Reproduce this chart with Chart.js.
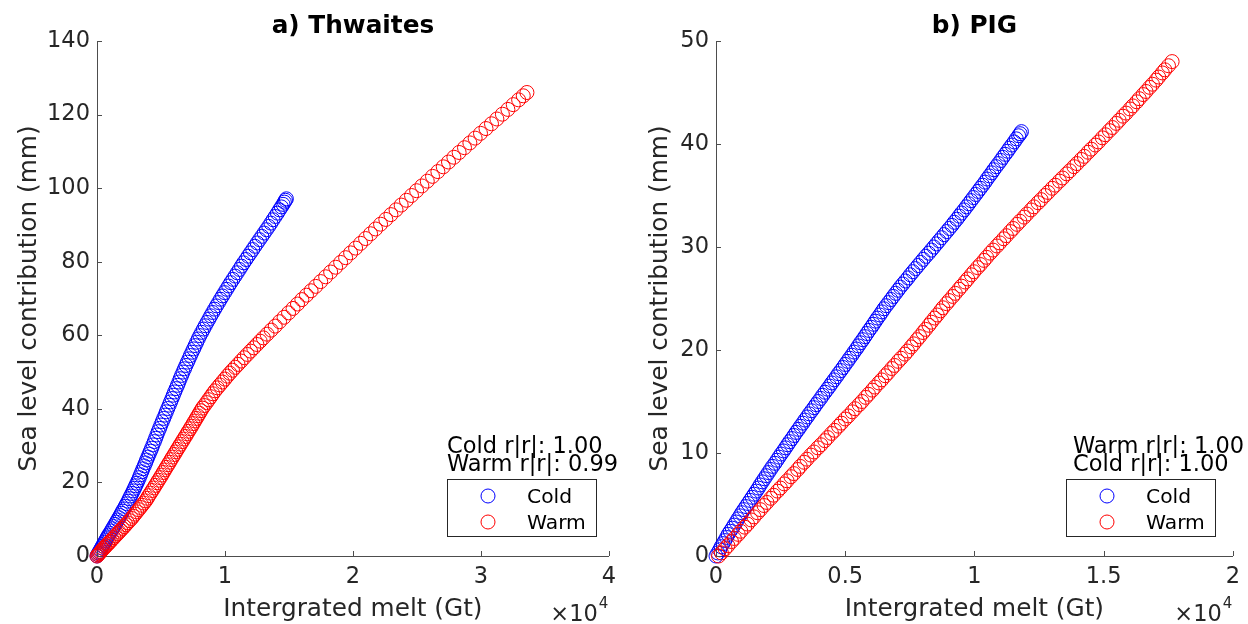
<!DOCTYPE html>
<html>
<head>
<meta charset="utf-8">
<script src="https://cdn.jsdelivr.net/npm/chart.js@4.4.1/dist/chart.umd.min.js"></script>
<style>
  html, body { margin: 0; padding: 0; background: #fff; }
  #wrap { position: relative; width: 1248px; height: 624px; }
  canvas { position: absolute; top: 0; }
  #chartA { left: 0; }
  #chartB { left: 624px; }
</style>
</head>
<body>
<div id="wrap">
  <canvas id="chartA" width="624" height="624"></canvas>
  <canvas id="chartB" width="624" height="624"></canvas>
</div>
<script>
// x = integrated melt in units of 10^4 Gt, y = sea level contribution (mm)
const thwaitesColdX = [0, 0.006, 0.013, 0.019, 0.027, 0.035, 0.043, 0.051, 0.059, 0.067,
  0.075, 0.083, 0.092, 0.100, 0.111, 0.121, 0.131, 0.141, 0.151, 0.162,
  0.171, 0.181, 0.191, 0.200, 0.210, 0.221, 0.232, 0.243, 0.253, 0.263,
  0.273, 0.283, 0.293, 0.302, 0.312, 0.321, 0.331, 0.340, 0.350, 0.359,
  0.369, 0.379, 0.388, 0.398, 0.407, 0.417, 0.427, 0.437, 0.448, 0.458,
  0.468, 0.478, 0.489, 0.499, 0.510, 0.521, 0.532, 0.542, 0.553, 0.564,
  0.575, 0.586, 0.596, 0.607, 0.618, 0.629, 0.640, 0.650, 0.661, 0.672,
  0.684, 0.695, 0.707, 0.719, 0.730, 0.742, 0.755, 0.767, 0.779, 0.791,
  0.804, 0.818, 0.832, 0.846, 0.860, 0.875, 0.889, 0.904, 0.919, 0.934,
  0.950, 0.965, 0.981, 0.997, 1.013, 1.029, 1.045, 1.062, 1.079, 1.096,
  1.113, 1.129, 1.146, 1.164, 1.181, 1.199, 1.217, 1.234, 1.252, 1.270,
  1.288, 1.306, 1.324, 1.342, 1.359, 1.376, 1.393, 1.410, 1.426, 1.441,
  1.454, 1.464, 1.473, 1.480];
const thwaitesColdY = [0, 0.4, 0.8, 1.2, 1.7, 2.2, 2.7, 3.2, 3.7, 4.2,
  4.7, 5.2, 5.7, 6.2, 6.8, 7.4, 8.0, 8.6, 9.2, 9.8,
  10.4, 11.0, 11.6, 12.2, 12.8, 13.5, 14.2, 14.9, 15.6, 16.3,
  17.0, 17.7, 18.4, 19.1, 19.8, 20.5, 21.3, 22.1, 22.9, 23.7,
  24.5, 25.3, 26.1, 26.9, 27.7, 28.5, 29.3, 30.2, 31.1, 32.0,
  32.9, 33.8, 34.7, 35.6, 36.5, 37.4, 38.3, 39.2, 40.1, 41.0,
  41.9, 42.8, 43.7, 44.6, 45.5, 46.4, 47.3, 48.2, 49.1, 50.0,
  50.9, 51.8, 52.7, 53.6, 54.5, 55.4, 56.3, 57.2, 58.1, 59.0,
  59.9, 60.8, 61.7, 62.6, 63.5, 64.4, 65.3, 66.2, 67.1, 68.0,
  68.9, 69.8, 70.7, 71.6, 72.5, 73.4, 74.3, 75.2, 76.1, 77.0,
  77.9, 78.8, 79.7, 80.6, 81.5, 82.4, 83.3, 84.2, 85.1, 86.0,
  86.9, 87.8, 88.7, 89.6, 90.5, 91.4, 92.3, 93.2, 94.1, 94.9,
  95.6, 96.2, 96.7, 97.1];

const thwaitesWarmX = [0, 0.008, 0.015, 0.023, 0.030, 0.040, 0.050, 0.061, 0.072, 0.083,
  0.094, 0.105, 0.118, 0.132, 0.145, 0.159, 0.172, 0.185, 0.199, 0.212,
  0.225, 0.238, 0.254, 0.270, 0.283, 0.297, 0.311, 0.325, 0.339, 0.352,
  0.366, 0.380, 0.393, 0.405, 0.418, 0.431, 0.444, 0.456, 0.469, 0.481,
  0.494, 0.506, 0.518, 0.530, 0.542, 0.555, 0.567, 0.579, 0.591, 0.604,
  0.616, 0.628, 0.641, 0.653, 0.666, 0.678, 0.691, 0.703, 0.715, 0.728,
  0.740, 0.752, 0.764, 0.776, 0.788, 0.800, 0.812, 0.824, 0.839, 0.856,
  0.872, 0.889, 0.905, 0.922, 0.941, 0.960, 0.980, 0.999, 1.018, 1.038,
  1.059, 1.080, 1.102, 1.126, 1.150, 1.175, 1.200, 1.225, 1.250, 1.275,
  1.300, 1.329, 1.361, 1.393, 1.427, 1.462, 1.497, 1.532, 1.567, 1.601,
  1.637, 1.673, 1.709, 1.748, 1.787, 1.826, 1.865, 1.904, 1.943, 1.982,
  2.021, 2.060, 2.099, 2.138, 2.177, 2.216, 2.257, 2.297, 2.337, 2.377,
  2.418, 2.458, 2.498, 2.539, 2.581, 2.622, 2.664, 2.706, 2.747, 2.789,
  2.830, 2.872, 2.914, 2.955, 2.997, 3.040, 3.083, 3.125, 3.168, 3.211,
  3.253, 3.295, 3.331, 3.360];
const thwaitesWarmY = [0, 0.3, 0.6, 0.9, 1.2, 1.6, 2.0, 2.4, 2.8, 3.2,
  3.6, 4.0, 4.5, 5.0, 5.5, 6.0, 6.5, 7.0, 7.5, 8.0,
  8.5, 9.0, 9.6, 10.2, 10.8, 11.4, 12.0, 12.6, 13.2, 13.8,
  14.4, 15.0, 15.7, 16.4, 17.1, 17.8, 18.5, 19.2, 19.9, 20.6,
  21.3, 22.0, 22.7, 23.4, 24.1, 24.8, 25.5, 26.2, 26.9, 27.6,
  28.3, 29.0, 29.7, 30.4, 31.1, 31.8, 32.5, 33.2, 33.9, 34.6,
  35.3, 36.0, 36.7, 37.4, 38.1, 38.8, 39.5, 40.2, 40.9, 41.7,
  42.5, 43.3, 44.1, 44.9, 45.7, 46.5, 47.3, 48.1, 48.9, 49.7,
  50.5, 51.3, 52.1, 53.0, 53.9, 54.8, 55.7, 56.6, 57.5, 58.4,
  59.3, 60.3, 61.4, 62.5, 63.7, 64.9, 66.1, 67.3, 68.5, 69.7,
  70.9, 72.1, 73.3, 74.6, 75.9, 77.2, 78.5, 79.8, 81.1, 82.4,
  83.7, 85.0, 86.3, 87.6, 88.9, 90.2, 91.5, 92.8, 94.1, 95.4,
  96.7, 98.0, 99.3, 100.6, 101.9, 103.2, 104.5, 105.8, 107.1, 108.4,
  109.7, 111.0, 112.3, 113.6, 114.9, 116.2, 117.5, 118.8, 120.1, 121.4,
  122.7, 124.0, 125.1, 126.0];

const pigColdX = [0, 0.007, 0.014, 0.020, 0.027, 0.034, 0.041, 0.047, 0.055, 0.063,
  0.070, 0.078, 0.085, 0.093, 0.100, 0.108, 0.116, 0.124, 0.132, 0.140,
  0.148, 0.156, 0.164, 0.171, 0.179, 0.187, 0.195, 0.203, 0.211, 0.219,
  0.228, 0.236, 0.244, 0.252, 0.261, 0.269, 0.277, 0.285, 0.294, 0.302,
  0.310, 0.319, 0.327, 0.336, 0.344, 0.353, 0.361, 0.370, 0.379, 0.387,
  0.396, 0.405, 0.413, 0.422, 0.431, 0.440, 0.448, 0.457, 0.466, 0.474,
  0.483, 0.492, 0.500, 0.509, 0.517, 0.526, 0.534, 0.543, 0.551, 0.559,
  0.568, 0.576, 0.584, 0.592, 0.601, 0.609, 0.617, 0.625, 0.634, 0.642,
  0.650, 0.659, 0.668, 0.677, 0.686, 0.695, 0.704, 0.713, 0.723, 0.733,
  0.743, 0.752, 0.762, 0.772, 0.782, 0.792, 0.802, 0.812, 0.823, 0.833,
  0.843, 0.853, 0.863, 0.873, 0.883, 0.893, 0.903, 0.913, 0.922, 0.932,
  0.941, 0.950, 0.960, 0.969, 0.978, 0.987, 0.996, 1.005, 1.014, 1.023,
  1.032, 1.041, 1.049, 1.058, 1.067, 1.075, 1.084, 1.093, 1.102, 1.110,
  1.119, 1.128, 1.136, 1.145, 1.154, 1.162, 1.171, 1.177, 1.182];
const pigColdY = [0, 0.3, 0.6, 0.9, 1.2, 1.5, 1.8, 2.1, 2.4, 2.7,
  3.0, 3.3, 3.6, 3.9, 4.2, 4.5, 4.8, 5.1, 5.4, 5.7,
  6.0, 6.3, 6.6, 6.9, 7.2, 7.5, 7.8, 8.1, 8.4, 8.7,
  9.0, 9.3, 9.6, 9.9, 10.2, 10.5, 10.8, 11.1, 11.4, 11.7,
  12.0, 12.3, 12.6, 12.9, 13.2, 13.5, 13.8, 14.1, 14.4, 14.7,
  15.0, 15.3, 15.6, 15.9, 16.2, 16.5, 16.8, 17.1, 17.4, 17.7,
  18.0, 18.3, 18.6, 18.9, 19.2, 19.5, 19.8, 20.1, 20.4, 20.7,
  21.0, 21.3, 21.6, 21.9, 22.2, 22.5, 22.8, 23.1, 23.4, 23.7,
  24.0, 24.3, 24.6, 24.9, 25.2, 25.5, 25.8, 26.1, 26.4, 26.7,
  27.0, 27.3, 27.6, 27.9, 28.2, 28.5, 28.8, 29.1, 29.4, 29.7,
  30.0, 30.3, 30.6, 30.9, 31.2, 31.5, 31.8, 32.1, 32.4, 32.7,
  33.0, 33.3, 33.6, 33.9, 34.2, 34.5, 34.8, 35.1, 35.4, 35.7,
  36.0, 36.3, 36.6, 36.9, 37.2, 37.5, 37.8, 38.1, 38.4, 38.7,
  39.0, 39.3, 39.6, 39.9, 40.2, 40.5, 40.8, 41.0, 41.2];

const pigWarmX = [0.010, 0.021, 0.035, 0.046, 0.060, 0.071, 0.086, 0.096, 0.111, 0.122,
  0.136, 0.147, 0.161, 0.172, 0.186, 0.197, 0.212, 0.223, 0.238, 0.249,
  0.264, 0.275, 0.290, 0.301, 0.316, 0.326, 0.341, 0.352, 0.367, 0.379,
  0.394, 0.406, 0.421, 0.432, 0.447, 0.459, 0.474, 0.485, 0.500, 0.512,
  0.527, 0.538, 0.554, 0.565, 0.579, 0.590, 0.605, 0.615, 0.630, 0.641,
  0.655, 0.666, 0.680, 0.691, 0.705, 0.716, 0.731, 0.741, 0.755, 0.765,
  0.778, 0.788, 0.801, 0.811, 0.824, 0.833, 0.846, 0.856, 0.869, 0.878,
  0.892, 0.902, 0.916, 0.926, 0.940, 0.950, 0.964, 0.974, 0.988, 0.998,
  1.012, 1.023, 1.037, 1.047, 1.061, 1.072, 1.087, 1.098, 1.113, 1.124,
  1.139, 1.150, 1.165, 1.176, 1.192, 1.203, 1.219, 1.230, 1.246, 1.258,
  1.273, 1.285, 1.301, 1.313, 1.329, 1.341, 1.357, 1.369, 1.385, 1.397,
  1.413, 1.425, 1.440, 1.452, 1.468, 1.480, 1.495, 1.507, 1.522, 1.534,
  1.549, 1.560, 1.575, 1.587, 1.602, 1.613, 1.628, 1.638, 1.653, 1.664,
  1.678, 1.689, 1.703, 1.713, 1.727, 1.737, 1.751, 1.765];
const pigWarmY = [0, 0.3, 0.7, 1.0, 1.4, 1.7, 2.1, 2.4, 2.8, 3.1,
  3.5, 3.8, 4.2, 4.5, 4.9, 5.2, 5.6, 5.9, 6.3, 6.6,
  7.0, 7.3, 7.7, 8.0, 8.4, 8.7, 9.1, 9.4, 9.8, 10.1,
  10.5, 10.8, 11.2, 11.5, 11.9, 12.2, 12.6, 12.9, 13.3, 13.6,
  14.0, 14.3, 14.7, 15.0, 15.4, 15.7, 16.1, 16.4, 16.8, 17.1,
  17.5, 17.8, 18.2, 18.5, 18.9, 19.2, 19.6, 19.9, 20.3, 20.6,
  21.0, 21.3, 21.7, 22.0, 22.4, 22.7, 23.1, 23.4, 23.8, 24.1,
  24.5, 24.8, 25.2, 25.5, 25.9, 26.2, 26.6, 26.9, 27.3, 27.6,
  28.0, 28.3, 28.7, 29.0, 29.4, 29.7, 30.1, 30.4, 30.8, 31.1,
  31.5, 31.8, 32.2, 32.5, 32.9, 33.2, 33.6, 33.9, 34.3, 34.6,
  35.0, 35.3, 35.7, 36.0, 36.4, 36.7, 37.1, 37.4, 37.8, 38.1,
  38.5, 38.8, 39.2, 39.5, 39.9, 40.2, 40.6, 40.9, 41.3, 41.6,
  42.0, 42.3, 42.7, 43.0, 43.4, 43.7, 44.1, 44.4, 44.8, 45.1,
  45.5, 45.8, 46.2, 46.5, 46.9, 47.2, 47.6, 48.0];

const xTicksA = [0, 1, 2, 3, 4];
const yTicksA = [0, 20, 40, 60, 80, 100, 120, 140];
const xTicksB = [0, 0.5, 1, 1.5, 2];
const yTicksB = [0, 10, 20, 30, 40, 50];

const seriesNames = ['Cold', 'Warm'];
const statsA = ['Cold r|r|: 1.00', 'Warm r|r|: 0.99'];
const statsB = ['Warm r|r|: 1.00', 'Cold r|r|: 1.00'];

const FONT = '"DejaVu Sans", sans-serif';
const axisColor = '#4d4d4d';
const textColor = '#262626';
const coldColor = '#0000ff';
const warmColor = '#ff0000';

Chart.defaults.font.family = FONT;

function toPoints(xs, ys) {
  return xs.map((x, i) => ({ x: x, y: ys[i] }));
}

// titles, axis labels, inward ticks, r|r| text and the legend box
const decor = {
  id: 'decor',
  afterDraw(chart, args, o) {
    const ctx = chart.ctx;
    const a = chart.chartArea;
    const xs = chart.scales.x, ys = chart.scales.y;
    ctx.save();

    ctx.strokeStyle = axisColor;
    ctx.lineWidth = 1;
    ctx.beginPath();
    ys.ticks.forEach(t => {
      const p = Math.round(ys.getPixelForValue(t.value)) + 0.5;
      ctx.moveTo(a.left, p); ctx.lineTo(a.left + 5, p);
    });
    xs.ticks.forEach(t => {
      const p = Math.round(xs.getPixelForValue(t.value)) + 0.5;
      ctx.moveTo(p, a.bottom); ctx.lineTo(p, a.bottom - 5);
    });
    ctx.stroke();

    const cx = (a.left + a.right) / 2;
    ctx.textAlign = 'center';
    ctx.textBaseline = 'alphabetic';
    ctx.fillStyle = '#000';
    ctx.font = 'bold 24.75px ' + FONT;
    ctx.fillText(o.title, cx, 33);

    ctx.fillStyle = textColor;
    ctx.font = '24.75px ' + FONT;
    ctx.fillText('Intergrated melt (Gt)', cx, 616);

    ctx.save();
    ctx.translate(o.yLabelX, (a.top + a.bottom) / 2);
    ctx.rotate(-Math.PI / 2);
    ctx.fillText('Sea level contribution (mm)', 0, 0);
    ctx.restore();

    // x10^4 exponent
    ctx.textAlign = 'right';
    ctx.font = '22.5px ' + FONT;
    ctx.fillText('\u00d710', a.right - 11, 621);
    ctx.textAlign = 'left';
    ctx.font = '15px ' + FONT;
    ctx.fillText('4', a.right - 10, 608);

    // correlation text
    ctx.fillStyle = '#000';
    ctx.font = '22.5px ' + FONT;
    ctx.fillText(o.stats[0], o.statsX, 453);
    ctx.fillText(o.stats[1], o.statsX, 471);

    // legend
    const bx = o.legendX, by = 479, bw = 149, bh = 57;
    ctx.fillStyle = '#fff';
    ctx.fillRect(bx, by, bw, bh);
    ctx.strokeStyle = textColor;
    ctx.strokeRect(bx + 0.5, by + 0.5, bw, bh);
    const rows = [496, 522];
    const cols = [coldColor, warmColor];
    ctx.font = '20.25px ' + FONT;
    rows.forEach((ry, i) => {
      ctx.strokeStyle = cols[i];
      ctx.beginPath();
      ctx.arc(bx + 41, ry, 7, 0, Math.PI * 2);
      ctx.stroke();
      ctx.fillStyle = '#000';
      ctx.fillText(seriesNames[i], bx + 80, ry + 7);
    });
    ctx.restore();
  }
};

function makeChart(id, cfg) {
  const pointOpts = {
    showLine: false,
    pointRadius: 7,
    pointHoverRadius: 7,
    pointBorderWidth: 1,
    pointBackgroundColor: 'rgba(0,0,0,0)',
    clip: false
  };
  return new Chart(document.getElementById(id), {
    type: 'scatter',
    data: {
      datasets: [
        Object.assign({ label: seriesNames[0], data: cfg.cold, pointBorderColor: coldColor, order: 1 }, pointOpts),
        Object.assign({ label: seriesNames[1], data: cfg.warm, pointBorderColor: warmColor, order: 0 }, pointOpts)
      ]
    },
    options: {
      responsive: false,
      animation: false,
      devicePixelRatio: 1,
      events: [],
      layout: { padding: { top: 41, right: cfg.padRight, bottom: 0, left: 0 } },
      plugins: {
        legend: { display: false },
        tooltip: { enabled: false },
        decor: cfg.decor
      },
      scales: {
        x: {
          type: 'linear',
          min: cfg.xTicks[0],
          max: cfg.xTicks[cfg.xTicks.length - 1],
          afterBuildTicks: s => { s.ticks = cfg.xTicks.map(v => ({ value: v })); },
          afterFit: s => { s.height = 68; },
          grid: { display: false, drawTicks: false },
          border: { display: true, color: axisColor, width: 1 },
          ticks: {
            padding: 8,
            color: textColor,
            font: { size: 22.5 },
            maxRotation: 0,
            autoSkip: false,
            callback: v => String(v)
          }
        },
        y: {
          type: 'linear',
          min: cfg.yTicks[0],
          max: cfg.yTicks[cfg.yTicks.length - 1],
          afterBuildTicks: s => { s.ticks = cfg.yTicks.map(v => ({ value: v })); },
          afterFit: s => { s.width = cfg.yWidth; },
          grid: { display: false, drawTicks: false },
          border: { display: true, color: axisColor, width: 1 },
          ticks: {
            padding: 7,
            color: textColor,
            font: { size: 22.5 },
            autoSkip: false,
            callback: v => String(v)
          }
        }
      }
    },
    plugins: [decor]
  });
}

makeChart('chartA', {
  cold: toPoints(thwaitesColdX, thwaitesColdY),
  warm: toPoints(thwaitesWarmX, thwaitesWarmY),
  xTicks: xTicksA,
  yTicks: yTicksA,
  yWidth: 97,
  padRight: 3,
  decor: { title: 'a) Thwaites', yLabelX: 36, stats: statsA, statsX: 447, legendX: 447 }
});

makeChart('chartB', {
  cold: toPoints(pigColdX, pigColdY),
  warm: toPoints(pigWarmX, pigWarmY),
  xTicks: xTicksB,
  yTicks: yTicksB,
  yWidth: 92,
  padRight: 10,
  decor: { title: 'b) PIG', yLabelX: 43, stats: statsB, statsX: 449, legendX: 442 }
});
</script>
</body>
</html>
